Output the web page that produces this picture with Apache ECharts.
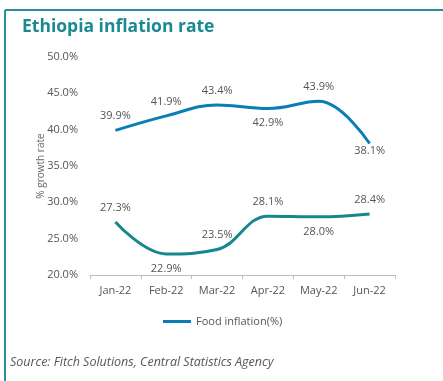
<!DOCTYPE html>
<html><head><meta charset="utf-8">
<script src="https://cdn.jsdelivr.net/npm/echarts@6/dist/echarts.min.js"></script>
<style>html,body{margin:0;padding:0;background:#fff}#c{width:443px;height:381px}</style>
</head><body><div id="c"></div>
<script>
const categories = ['Jan-22','Feb-22','Mar-22','Apr-22','May-22','Jun-22'];
const foodInflation = [39.9, 41.9, 43.4, 42.9, 43.9, 38.1];
const overallInflation = [27.3, 22.9, 23.5, 28.1, 28.0, 28.4];
const foodLabelPos = ['top','top','top','bottom','top','bottom'];
const overallLabelPos = ['top','bottom','top','top','bottom','top'];

const font = '"Open Sans", "Noto Sans", sans-serif';
const chart = echarts.init(document.getElementById('c'), null, {renderer:'canvas'});
function mk(vals, pos, last){ return vals.map((v,i)=>({value:v, label:Object.assign({position:pos[i]}, (last && i===vals.length-1)?{distance:1}:{})})); }
chart.setOption({
  animation:false,
  textStyle:{fontFamily:font},
  title:{text:'Ethiopia inflation rate', left:17, top:13,
    textStyle:{fontFamily:font, fontSize:17.5, fontWeight:'bold', color:'#1a8a92'}},
  graphic:[
    {type:'line', shape:{x1:5,y1:10,x2:443,y2:10}, style:{stroke:'#2a8f96', lineWidth:2}},
    {type:'line', shape:{x1:5,y1:10,x2:5,y2:381}, style:{stroke:'#2a8f96', lineWidth:2}},
    {type:'text', left:10, top:356, style:{text:'Source: Fitch Solutions, Central Statistics Agency',
      font:'italic 12.5px "Open Sans", sans-serif', fill:'#555'}}
  ],
  legend:{data:[{name:'Food inflation(%)', itemStyle:{color:'#0a7db8', opacity:1}}], top:311, left:158, icon:'rect', itemWidth:28, itemHeight:3, itemGap:10,
    textStyle:{fontFamily:font, fontSize:11, color:'#555'}},
  grid:{left:90, right:48, top:57, bottom:106},
  xAxis:{type:'category', data:categories, boundaryGap:true,
    axisLine:{lineStyle:{color:'#bdbdbd', width:1}},
    axisTick:{show:true, length:4, lineStyle:{color:'#bdbdbd'}},
    axisLabel:{color:'#555', fontSize:11, margin:10, fontFamily:font}},
  yAxis:{type:'value', min:20, max:50, interval:5,
    name:'% growth rate', nameLocation:'middle', nameGap:44, nameRotate:90, nameMoveOverlap:false,
    nameTextStyle:{color:'#666', fontSize:10, fontFamily:font},
    axisLine:{show:false}, axisTick:{show:false}, splitLine:{show:false},
    axisLabel:{color:'#555', fontSize:11, margin:12, fontFamily:font, formatter:v=>v.toFixed(1)+'%'}},
  series:[
    {name:'Food inflation(%)', type:'line', data:mk(foodInflation, foodLabelPos, true), smooth:0.4,
      showSymbol:true, symbol:'circle', symbolSize:2, lineStyle:{color:'#0a7db8', width:3}, itemStyle:{color:'rgba(0,0,0,0)', borderWidth:0},
      label:{show:true, formatter:p=>p.value.toFixed(1)+'%', color:'#555', fontSize:11, fontFamily:font, distance:8}},
    {name:'Overall inflation(%)', type:'line', data:mk(overallInflation, overallLabelPos, false), smooth:0.4,
      showSymbol:true, symbol:'circle', symbolSize:2, lineStyle:{color:'#16878f', width:3}, itemStyle:{color:'rgba(0,0,0,0)', borderWidth:0},
      label:{show:true, formatter:p=>p.value.toFixed(1)+'%', color:'#555', fontSize:11, fontFamily:font, distance:8}}
  ]
});
</script></body></html>
